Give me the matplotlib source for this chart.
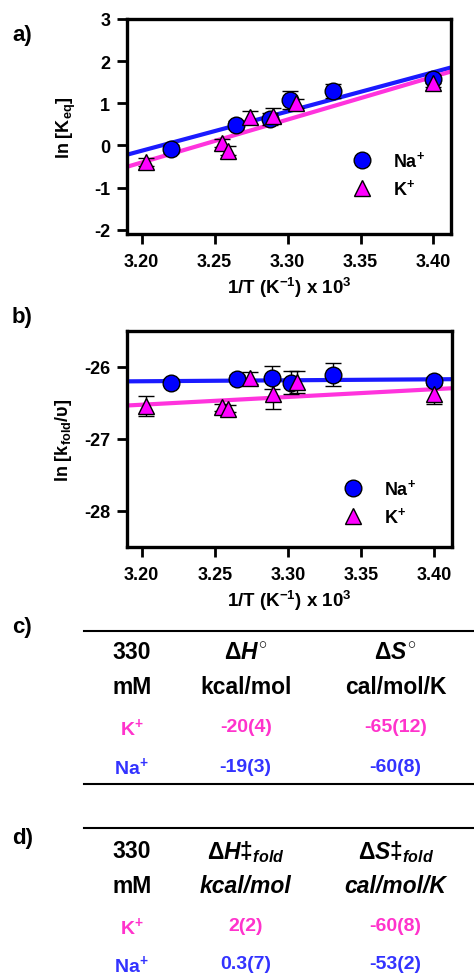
import matplotlib
matplotlib.use("Agg")
from matplotlib import pyplot as plt
from matplotlib.lines import Line2D

plt.rcParams['font.family'] = ['Liberation Sans', 'DejaVu Sans']
plt.rcParams['font.weight'] = 'bold'
plt.rcParams['axes.unicode_minus'] = False
plt.rcParams['mathtext.fontset'] = 'custom'
plt.rcParams['mathtext.rm'] = 'Liberation Sans:bold'
plt.rcParams['mathtext.bf'] = 'Liberation Sans:bold'
plt.rcParams['mathtext.it'] = 'Liberation Sans:bold:italic'
plt.rcParams['mathtext.sf'] = 'Liberation Sans:bold'

# van 't Hoff data (x = 1/T * 10^3)
na_x_eq = [3.220, 3.265, 3.288, 3.302, 3.331, 3.400]
na_lnk_eq = [-0.08, 0.49, 0.63, 1.08, 1.29, 1.58]
na_err_eq = [0.10, 0.10, 0.15, 0.22, 0.17, 0.10]
k_x_eq = [3.203, 3.255, 3.259, 3.274, 3.290, 3.306, 3.400]
k_lnk_eq = [-0.39, 0.06, -0.12, 0.67, 0.71, 1.00, 1.48]
k_err_eq = [0.10, 0.10, 0.10, 0.15, 0.18, 0.10, 0.10]

# Eyring data for folding rates
na_x_fold = [3.220, 3.265, 3.289, 3.302, 3.331, 3.400]
na_lnk_fold = [-26.22, -26.16, -26.15, -26.22, -26.11, -26.19]
na_err_fold = [0.05, 0.05, 0.16, 0.16, 0.16, 0.05]
k_x_fold = [3.203, 3.255, 3.259, 3.274, 3.290, 3.306, 3.400]
k_lnk_fold = [-26.54, -26.56, -26.58, -26.15, -26.38, -26.21, -26.38]
k_err_fold = [0.14, 0.05, 0.05, 0.08, 0.20, 0.15, 0.13]

# linear fits (slope, intercept)
na_fit_eq = (9.32, -29.95)
k_fit_eq = (10.18, -32.98)
na_fit_fold = (0.135, -26.63)
k_fit_fold = (1.08, -29.98)

fit_x = [3.19, 3.412]

# thermodynamic tables
tbl_rows = ['K$^{+}$', 'Na$^{+}$']
tbl_c_dH = ['-20(4)', '-19(3)']
tbl_c_dS = ['-65(12)', '-60(8)']
tbl_d_dH = ['2(2)', '0.3(7)']
tbl_d_dS = ['-60(8)', '-53(2)']

BLUE = '#0000ff'
MAG = '#ff00ff'
LINE_BLUE = '#1a1aff'
LINE_MAG = '#ff33dd'
TXT_MAG = '#ff33cc'
TXT_BLUE = '#3333ff'

W, H = 474, 979
fig = plt.figure(figsize=(W / 100, H / 100), dpi=100)


def px_axes(l, t, r, b):
    return fig.add_axes([l / W, 1 - b / H, (r - l) / W, (b - t) / H])


def style(ax):
    for s in ax.spines.values():
        s.set_linewidth(2.4)
    ax.tick_params(direction='out', length=7, width=2, labelsize=13)
    ax.tick_params(axis='x', pad=7)
    ax.tick_params(axis='y', pad=5)
    for lab in ax.get_xticklabels() + ax.get_yticklabels():
        lab.set_fontweight('bold')


def panel(ax, data, fits, leg_anchor):
    (nx, ny, ne, kx, ky, ke) = data
    nf, kf = fits
    xs = fit_x
    ax.plot(xs, [nf[0] * x + nf[1] for x in xs], color=LINE_BLUE, lw=3, zorder=2)
    ax.plot(xs, [kf[0] * x + kf[1] for x in xs], color=LINE_MAG, lw=3, zorder=2)
    ax.errorbar(nx, ny, yerr=ne, fmt='none', ecolor='black', elinewidth=1,
                capsize=6, capthick=1, zorder=3)
    ax.errorbar(kx, ky, yerr=ke, fmt='none', ecolor='black', elinewidth=1,
                capsize=6, capthick=1, zorder=3)
    ax.plot(nx, ny, 'o', ms=12, mfc=BLUE, mec='black', mew=1, zorder=4)
    ax.plot(kx, ky, '^', ms=12, mfc=MAG, mec='black', mew=1, zorder=5)
    handles = [Line2D([], [], ls='none', marker='o', ms=12, mfc=BLUE, mec='black', mew=1),
               Line2D([], [], ls='none', marker='^', ms=12, mfc=MAG, mec='black', mew=1)]
    ax.legend(handles, ['Na$^{+}$', 'K$^{+}$'], loc='lower right',
              bbox_to_anchor=leg_anchor, frameon=False, fontsize=13,
              handletextpad=0.7, labelspacing=0.45)
    ax.set_xlim(3.19, 3.412)
    ax.set_xticks([3.20, 3.25, 3.30, 3.35, 3.40])
    ax.set_xticklabels(['3.20', '3.25', '3.30', '3.35', '3.40'])
    ax.set_xlabel('1/T (K$^{-1}$) x 10$^{3}$', fontsize=13.5, fontweight='bold', labelpad=3)


# a) equilibrium constant
ax1 = px_axes(127, 20, 451, 235)
panel(ax1, (na_x_eq, na_lnk_eq, na_err_eq, k_x_eq, k_lnk_eq, k_err_eq),
      (na_fit_eq, k_fit_eq), (0.97, 0.09))
ax1.set_ylim(-2.1, 3)
ax1.set_yticks([-2, -1, 0, 1, 2, 3])
ax1.set_ylabel('ln [K$_{\\mathrm{eq}}$]', fontsize=13, fontweight='bold', labelpad=12)
style(ax1)

# b) folding rate
ax2 = px_axes(127, 332, 452, 548)
panel(ax2, (na_x_fold, na_lnk_fold, na_err_fold, k_x_fold, k_lnk_fold, k_err_fold),
      (na_fit_fold, k_fit_fold), (0.94, 0.02))
ax2.set_ylim(-28.5, -25.5)
ax2.set_yticks([-28, -27, -26])
ax2.set_ylabel('ln [k$_{\\mathrm{fold}}$/$\\mathrm{\\upsilon}$]', fontsize=13,
               fontweight='bold', labelpad=7)
style(ax2)


def ftext(x, y, s, **kw):
    kw.setdefault('ha', 'center')
    kw.setdefault('va', 'center')
    kw.setdefault('fontweight', 'bold')
    fig.text(x / W, 1 - y / H, s, **kw)


def hline(y):
    fig.add_artist(Line2D([84 / W, 1.0], [1 - y / H, 1 - y / H], color='black', lw=1.5))


for lab, y in [('a)', 36), ('b)', 318), ('c)', 628), ('d)', 839)]:
    ftext(12, y, lab, fontsize=16, ha='left')

cols = [131.7, 245.7, 395.7]
HDR = 16.5
VAL = 14

# c) table
hline(632)
ftext(cols[0], 653, '330', fontsize=HDR)
ftext(cols[0], 688, 'mM', fontsize=HDR)
ftext(cols[1], 653, '$\\Delta\\mathit{H}^{\\circ}$', fontsize=HDR)
ftext(cols[1], 688, 'kcal/mol', fontsize=HDR)
ftext(cols[2], 653, '$\\Delta\\mathit{S}^{\\circ}$', fontsize=HDR)
ftext(cols[2], 688, 'cal/mol/K', fontsize=HDR)
for i, (y, c) in enumerate([(728, TXT_MAG), (767, TXT_BLUE)]):
    ftext(cols[0], y, tbl_rows[i], fontsize=VAL, color=c)
    ftext(cols[1], y, tbl_c_dH[i], fontsize=VAL, color=c)
    ftext(cols[2], y, tbl_c_dS[i], fontsize=VAL, color=c)
hline(785)

# d) table
hline(829)
ftext(cols[0], 852, '330', fontsize=HDR)
ftext(cols[0], 887, 'mM', fontsize=HDR)
ftext(cols[1], 852, '$\\Delta\\mathit{H}$\u2021$_{\\mathit{fold}}$', fontsize=HDR)
ftext(cols[1], 887, 'kcal/mol', fontsize=HDR, style='italic')
ftext(cols[2], 852, '$\\Delta\\mathit{S}$\u2021$_{\\mathit{fold}}$', fontsize=HDR)
ftext(cols[2], 887, 'cal/mol/K', fontsize=HDR, style='italic')
for i, (y, c) in enumerate([(927, TXT_MAG), (965, TXT_BLUE)]):
    ftext(cols[0], y, tbl_rows[i], fontsize=VAL, color=c)
    ftext(cols[1], y, tbl_d_dH[i], fontsize=VAL, color=c)
    ftext(cols[2], y, tbl_d_dS[i], fontsize=VAL, color=c)

fig.savefig('out.png', dpi=100)
